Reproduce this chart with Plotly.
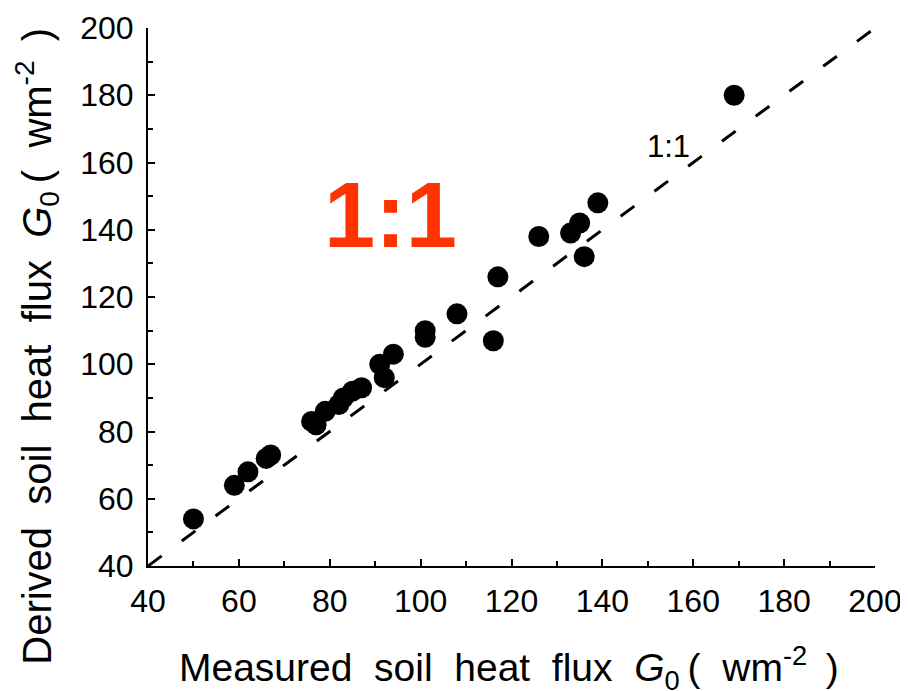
import plotly.graph_objects as go

# Measured (x) vs derived (y) soil heat flux G0 (W m-2)
measured = [50, 59, 62, 66, 67, 76, 77, 79, 82, 83, 85, 87, 91, 92, 94,
            101, 101, 108, 116, 117, 126, 133, 135, 136, 139, 169]
derived = [54, 64, 68, 72, 73, 83, 82, 86, 88, 90, 92, 93, 100, 96, 103,
           108, 110, 115, 107, 126, 138, 139, 142, 132, 148, 180]
one_to_one = [40, 200]

x_ticks = [40, 60, 80, 100, 120, 140, 160, 180, 200]
y_ticks = [40, 60, 80, 100, 120, 140, 160, 180, 200]

FONT = "Liberation Sans, Arial, sans-serif"
NB = "\u00a0"
TH = "\u2009"

fig = go.Figure()
fig.add_trace(go.Scatter(
    x=one_to_one, y=one_to_one, mode="lines",
    line=dict(color="black", width=3, dash="17px,25px"),
    showlegend=False, hoverinfo="skip", cliponaxis=True))
fig.add_trace(go.Scatter(
    x=measured, y=derived, mode="markers",
    marker=dict(color="black", size=21, line=dict(width=0)),
    showlegend=False))

axis_common = dict(
    showline=True, linecolor="black", linewidth=2, mirror=False,
    ticks="inside", ticklen=7, tickwidth=2, tickcolor="black",
    showgrid=False, zeroline=False, automargin=False,
    tickfont=dict(family=FONT, size=32, color="black"),
    minor=dict(ticks="inside", ticklen=5, tickwidth=2, tickcolor="black", dtick=10),
    dtick=20,
)

fig.update_xaxes(range=[40, 200], tickvals=x_ticks, ticklabelstandoff=6, **axis_common)
fig.update_yaxes(range=[40, 200], tickvals=y_ticks, ticklabelstandoff=6, **axis_common)

fig.add_annotation(
    x=93.3, y=144.5, xref="x", yref="y", text="<b>1:1</b>", showarrow=False,
    font=dict(family=FONT, size=92, color="rgb(255,51,0)"))
fig.add_annotation(
    x=154.6, y=164.8, xref="x", yref="y", text="1:1", showarrow=False,
    font=dict(family=FONT, size=31, color="black"))

unit = TH + "(" + NB + NB + "wm<sup>-2</sup>" + NB + TH + ")"
x_title = ("Measured" + NB + " soil" + NB + " heat" + NB + " flux" + NB +
           " <i>G</i><sub>0</sub>" + unit)
y_title = ("Derived" + NB + " soil" + NB + " heat" + NB + " flux" + NB +
           " <i>G</i><sub>0</sub>" + unit)

fig.add_annotation(
    x=0.497, y=-0.19, xref="paper", yref="paper", text=x_title,
    showarrow=False, xanchor="center", yanchor="middle",
    font=dict(family=FONT, size=39, color="black"))
fig.add_annotation(
    x=-0.153, y=0.409, xref="paper", yref="paper", text=y_title,
    showarrow=False, xanchor="center", yanchor="middle", textangle=-90,
    font=dict(family=FONT, size=40, color="black"))

fig.update_layout(
    width=908, height=691,
    margin=dict(l=140, r=41, t=20, b=133, autoexpand=False),
    paper_bgcolor="white", plot_bgcolor="white",
    font=dict(family=FONT, color="black"),
)

fig.write_html("out.html")
